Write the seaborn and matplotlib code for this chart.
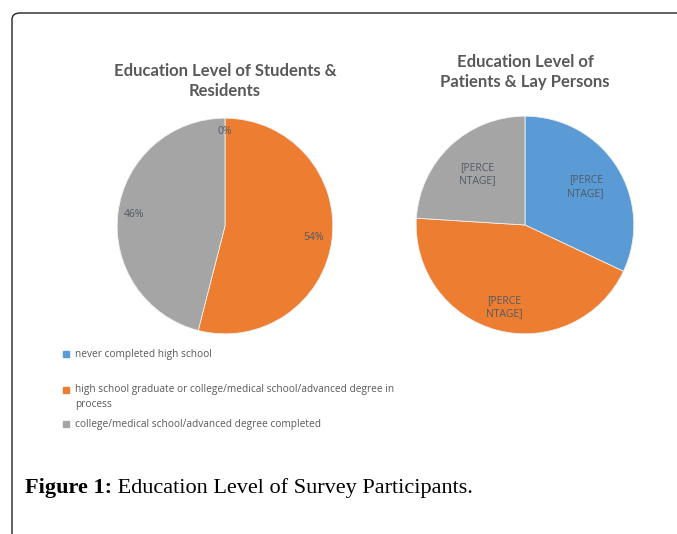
import matplotlib.pyplot as plt
import seaborn as sns
import numpy as np
from matplotlib.patches import FancyBboxPatch, Rectangle

# ==============================================================================
# DATA
# ==============================================================================
categories = [
    "never completed high school",
    "high school graduate or college/medical school/advanced degree in\nprocess",
    "college/medical school/advanced degree completed",
]
students_values = [0, 54, 46]
students_labels = ["0%", "54%", "46%"]
patients_values = [32, 44, 24]
patients_labels = ["[PERCE\nNTAGE]", "[PERCE\nNTAGE]", "[PERCE\nNTAGE]"]

titles = ["Education Level of Students &\nResidents", "Education Level of\nPatients & Lay Persons"]
caption_bold = "Figure 1:"
caption_rest = " Education Level of Survey Participants."

sns.set_theme(style="white")
palette = sns.color_palette(["#5B9BD5", "#ED7D31", "#A5A5A5"])

W, H = 677, 534
fig = plt.figure(figsize=(W / 100, H / 100), dpi=100)


def px_axes(cx, cy, r):
    # axes box in pixel coords (from top-left)
    return fig.add_axes([(cx - r) / W, (H - cy - r) / H, 2 * r / W, 2 * r / H])


def draw_pie(ax, values, labels, dists):
    wedges, _ = ax.pie(
        values,
        colors=palette,
        startangle=90,
        counterclock=False,
        radius=1,
        wedgeprops=dict(edgecolor="#f0f0f0", linewidth=0.6),
    )
    for w, lab, d in zip(wedges, labels, dists):
        ang = np.deg2rad((w.theta1 + w.theta2) / 2)
        ax.text(d * np.cos(ang), d * np.sin(ang), lab, ha="center", va="center",
                fontsize=7.5, color="#505a66", family="Open Sans", linespacing=1.3)
    ax.set_xlim(-1.02, 1.02)
    ax.set_ylim(-1.02, 1.02)
    ax.set_aspect("equal")
    ax.axis("off")


ax1 = px_axes(225, 226, 110)
draw_pie(ax1, students_values, students_labels, [0.88, 0.83, 0.85])
ax2 = px_axes(525, 225, 111)
draw_pie(ax2, patients_values, patients_labels, [0.66, 0.78, 0.64])

# Titles
fig.text(225 / W, 1 - 81 / H, titles[0], ha="center", va="center", fontsize=12,
         fontweight="bold", color="#595959", family="Lato", linespacing=1.35)
fig.text(525 / W, 1 - 72 / H, titles[1], ha="center", va="center", fontsize=12,
         fontweight="bold", color="#595959", family="Lato", linespacing=1.35)

# Legend
leg_y = [354, 397, 424]
for i, (lab, y) in enumerate(zip(categories, leg_y)):
    sq_y = 390 if i == 1 else y
    fig.patches.append(Rectangle((63 / W, 1 - (sq_y + 3) / H), 6 / W, 6 / H,
                                 transform=fig.transFigure, color=palette[i]))
    fig.text(75 / W, 1 - y / H, lab, ha="left", va="center",
             fontsize=7.3, color="#595959", family="Open Sans", linespacing=1.5)

# Caption
t = fig.text(25 / W, 1 - 488 / H, caption_bold, ha="left", va="center", fontsize=16,
             fontweight="bold", color="black", family="Liberation Serif")
fig.canvas.draw()
bb = t.get_window_extent()
fig.text(bb.x1 / W, 1 - 488 / H, caption_rest, ha="left", va="center", fontsize=16,
         color="black", family="Liberation Serif")

# Frame with rounded top-left corner
frame = FancyBboxPatch((12 / W, -0.2), 1.2, 1 - 13 / H + 0.2,
                       boxstyle="round,pad=0,rounding_size=0.012",
                       transform=fig.transFigure, fill=False, edgecolor="#222222",
                       linewidth=1.0)
fig.patches.append(frame)

fig.savefig("out.png", dpi=100)
